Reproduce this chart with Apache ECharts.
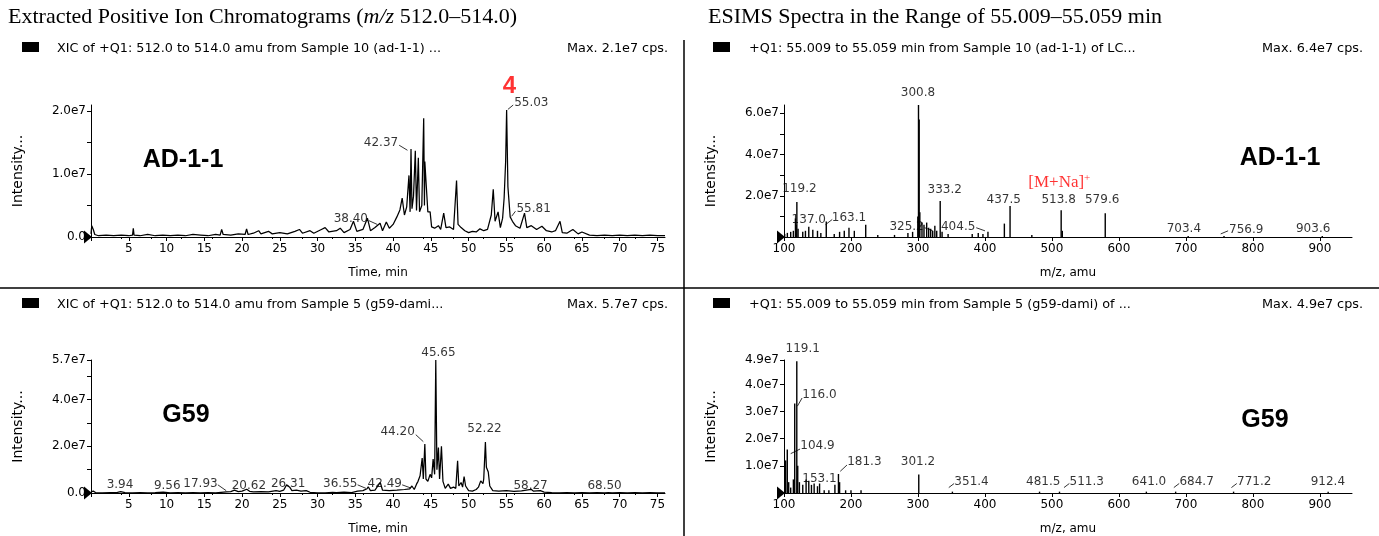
<!DOCTYPE html>
<html>
<head>
<meta charset="utf-8">
<script src="https://cdn.jsdelivr.net/npm/echarts@6/dist/echarts.min.js"></script>
<style>
  html, body { margin: 0; padding: 0; background: #fff; }
  #chart { width: 1379px; height: 536px; }
</style>
</head>
<body>
<div id="chart"></div>
<script>
// XIC of sample AD-1-1: time (min) and intensity (1e6 cps)
var ad11Time = [0, 0.1, 0.2, 0.3, 0.5, 1, 2, 3, 4, 5, 5.5, 5.6, 5.7, 6.5, 7.5, 8.5, 9.5, 10.5, 11.5, 12.5,
  13.5, 14.5, 15.5, 16.5, 17.1, 17.3, 17.5, 18.5, 19.5, 20.4, 20.6, 20.8, 21.5, 22.2, 22.5, 23.5, 24, 25, 26, 27,
  27.6, 28, 29, 29.5, 30.5, 31, 31.5, 32.5, 33, 33.5, 34.3, 34.75, 35.2, 36, 36.6, 37, 37.6, 38.27, 38.6, 39.1,
  39.5, 40, 40.5, 40.9, 41.2, 41.5, 41.8, 42.1, 42.25, 42.37, 42.5, 42.7, 42.94, 43.1, 43.34, 43.5, 43.8, 44.05, 44.15, 44.2,
  44.4, 44.6, 44.9, 45.1, 45.5, 46, 46.3, 46.7, 47, 47.5, 48, 48.4, 48.6, 49, 49.5, 50, 50.5, 51, 51.5, 52,
  52.5, 53, 53.26, 53.5, 53.9, 54.2, 54.5, 54.7, 54.9, 55.03, 55.2, 55.5, 55.8, 56.2, 56.8, 57.4, 57.7, 58.3, 59, 59.7,
  60.3, 61, 61.5, 62.1, 62.4, 63, 63.8, 64.5, 65, 66, 67, 68, 69, 70, 71, 72, 73, 74, 75, 76];
var ad11Int = [0.5, 1.8, 1.5, 1.2, 0.4, 0.2, 0.3, 0.2, 0.3, 0.2, 0.3, 1.4, 0.3, 0.2, 0.4, 0.2, 0.3, 0.2, 0.3, 0.2,
  0.4, 0.3, 0.2, 0.4, 0.3, 1.2, 0.4, 0.3, 0.5, 0.4, 1.3, 0.4, 0.6, 1.0, 0.5, 0.9, 0.5, 0.7, 0.5, 0.9,
  1.2, 0.6, 1.0, 0.6, 1.2, 1.5, 0.8, 1.0, 1.4, 0.7, 1.2, 2.5, 0.9, 1.2, 3.0, 1.0, 1.5, 2.2, 1.0, 2.4,
  1.4, 2.0, 3.2, 4.3, 6.2, 3.5, 4.8, 9.8, 4.0, 14.0, 4.5, 6.5, 13.7, 4.2, 12.6, 4.0, 5.0, 18.9, 5.0, 12.0,
  8.0, 4.0, 4.0, 1.6, 1.4, 1.8, 1.2, 3.8, 1.5, 1.6, 1.2, 9.0, 2.0, 1.5, 1.0, 0.7, 0.9, 0.8, 1.3, 1.0,
  1.2, 3.5, 7.6, 2.5, 4.0, 1.5, 3.0, 6.2, 12.0, 20.2, 8.0, 3.2, 2.5, 1.8, 1.4, 3.8, 1.5, 1.8, 1.2, 1.7,
  1.0, 0.8, 1.0, 2.5, 0.7, 0.6, 1.2, 0.5, 0.8, 0.3, 0.2, 0.3, 0.2, 0.3, 0.2, 0.3, 0.2, 0.3, 0.2, 0.2];

// XIC of sample G59: time (min) and intensity (1e6 cps)
var g59Time = [0, 0.3, 0.6, 1.5, 2.5, 3.5, 3.94, 4.5, 5.5, 6.5, 7.5, 8.5, 9.56, 10.5, 11.5, 12.5, 13.5, 14.5, 15.5, 16.5,
  17.93, 18.5, 19, 19.5, 20, 20.62, 21, 21.5, 22.5, 23.5, 24.5, 25, 25.5, 25.9, 26.31, 26.6, 27.2, 27.8, 28.5, 29,
  30, 31, 32, 32.5, 33.5, 34.5, 35.3, 36, 36.55, 36.7, 37, 37.6, 38.3, 38.6, 39.5, 40.5, 41.5, 42.2, 42.49, 42.8,
  43.1, 43.3, 43.57, 43.85, 44.0, 44.2, 44.35, 44.6, 44.9, 45.1, 45.3, 45.5, 45.65, 45.8, 46.0, 46.15, 46.4, 46.6, 46.9, 47.3,
  47.6, 48.0, 48.3, 48.54, 48.7, 49.0, 49.2, 49.4, 49.6, 50, 50.5, 51, 51.3, 51.6, 51.9, 52.0, 52.22, 52.35, 52.6, 52.8,
  53.2, 54, 55, 56, 57, 58.27, 58.6, 59.5, 60, 61, 62, 63, 64, 65, 66, 67, 68, 68.5, 69, 70,
  71, 72, 73, 74, 75, 76];
var g59Int = [0.5, 0.8, 0.2, 0.1, 0.2, 0.3, 0.6, 0.2, 0.1, 0.2, 0.1, 0.2, 0.4, 0.1, 0.2, 0.1, 0.2, 0.1, 0.2, 0.1,
  0.5, 0.6, 1.2, 0.6, 0.8, 1.6, 0.7, 0.5, 0.6, 0.5, 1.0, 0.7, 1.2, 3.5, 2.5, 1.0, 1.2, 0.8, 1.0, 0.3,
  0.1, 0.1, 0.3, 0.2, 0.4, 0.2, 0.8, 1.0, 1.8, 2.7, 1.0, 1.2, 4.5, 1.2, 1.0, 1.2, 1.5, 1.8, 3.0, 1.5,
  3.8, 5.0, 7.4, 15.0, 6.0, 21.0, 6.0, 5.0, 8.0, 6.5, 14.5, 8.0, 57.0, 10.0, 19.5, 6.0, 20.0, 5.0, 2.0, 3.8,
  2.0, 2.5, 2.0, 13.8, 3.0, 4.5, 2.5, 7.0, 3.0, 1.0, 0.8, 1.5, 2.5, 5.2, 4.0, 6.0, 21.8, 11.0, 9.0, 3.0,
  1.0, 0.8, 1.0, 0.7, 0.9, 1.6, 0.8, 1.0, 0.4, 0.2, 0.1, 0.2, 0.1, 0.2, 0.1, 0.2, 0.1, 0.2, 0.1, 0.2,
  0.1, 0.2, 0.1, 0.2, 0.1, 0.1];

// ESIMS spectrum of AD-1-1: m/z and intensity (1e7 cps)
var ad11Mz = [101, 105, 110, 114, 117.1, 118.2, 119.2, 121, 128, 132, 137, 143, 150, 155, 163.1, 175, 183, 190, 197, 205,
  222, 240, 265, 285, 292, 299.8, 300.8, 301.8, 302.8, 306, 309, 313, 316, 319, 322, 325.2, 328, 333.2, 336, 345,
  381, 390, 397, 404.5, 429, 437.5, 470, 513.8, 515.5, 579.6, 703.4, 756.9, 903.6];
var ad11Abund = [0.15, 0.2, 0.25, 0.3, 0.9, 0.6, 1.7, 0.4, 0.25, 0.3, 0.5, 0.35, 0.3, 0.2, 0.75, 0.15, 0.25, 0.3, 0.45, 0.3,
  0.6, 0.1, 0.1, 0.2, 0.25, 1.0, 6.4, 5.7, 1.2, 0.7, 0.6, 0.7, 0.45, 0.4, 0.3, 0.55, 0.3, 1.75, 0.25, 0.15,
  0.15, 0.2, 0.15, 0.25, 0.65, 1.5, 0.1, 1.3, 0.3, 1.15, 0.05, 0.05, 0.05];

// ESIMS spectrum of G59: m/z and intensity (1e7 cps)
var g59Mz = [102.5, 104.9, 107, 110, 114, 116.0, 119.1, 120.5, 123, 128, 133, 137, 141, 145, 150, 153.1, 160, 167, 176, 181.3,
  183, 192, 200, 215, 301.2, 351.4, 481.5, 511.3, 641.0, 684.7, 771.2, 912.4];
var g59Abund = [1.2, 1.6, 0.4, 0.2, 0.5, 3.3, 4.85, 1.0, 0.4, 0.3, 0.5, 0.45, 0.3, 0.35, 0.25, 0.35, 0.1, 0.1, 0.3, 0.7,
  0.4, 0.1, 0.1, 0.1, 0.68, 0.05, 0.05, 0.05, 0.05, 0.05, 0.05, 0.05];

// peak annotations: text, anchor x, anchor y (same units as the series)
var ad11XicLabels = ['55.03', '42.37', '38.40', '55.81'];
var ad11XicLabelX = [58.3, 38.4, 34.4, 58.6];
var ad11XicLabelY = [21.3, 15.0, 2.9, 4.4];
var g59XicLabels = ['45.65', '44.20', '52.22', '3.94', '9.56', '17.93', '20.62', '26.31', '36.55', '42.49', '58.27', '68.50'];
var g59XicLabelX = [46.0, 40.6, 52.1, 3.84, 10.1, 14.5, 20.9, 26.1, 33.0, 38.9, 58.2, 68.0];
var g59XicLabelY = [60.0, 26.0, 27.3, 3.6, 3.2, 4.0, 3.2, 4.0, 4.0, 4.0, 3.2, 2.9];
var ad11MsLabels = ['300.8', '119.2', '137.0', '163.1', '325.2', '333.2', '404.5', '437.5', '513.8', '579.6', '703.4', '756.9', '903.6'];
var ad11MsLabelX = [300, 123, 137, 197, 283, 340, 360, 428, 510, 575, 697, 790, 890];
var ad11MsLabelY = [7.0, 2.35, 0.85, 0.95, 0.5, 2.3, 0.5, 1.8, 1.8, 1.8, 0.4, 0.35, 0.4];
var g59MsLabels = ['119.1', '116.0', '104.9', '153.1', '181.3', '301.2', '351.4', '481.5', '511.3', '641.0', '684.7', '771.2', '912.4'];
var g59MsLabelX = [128, 153, 150, 153, 220, 300, 380, 487, 552, 645, 716, 802, 912];
var g59MsLabelY = [5.3, 3.6, 1.72, 0.51, 1.13, 1.13, 0.42, 0.42, 0.42, 0.42, 0.42, 0.42, 0.42];

// short leader strokes from a label to its peak: [x1, y1, x2, y2]
var ad11XicLeaders = [[40.8, 14.6, 41.9, 13.8], [36.8, 2.6, 37.9, 2.0], [55.9, 21.0, 55.2, 20.3], [56.2, 4.1, 55.7, 3.3]];
var g59XicLeaders = [[43.0, 25.0, 44.0, 22.0], [41.2, 3.5, 42.3, 2.2], [35.3, 3.5, 36.4, 2.0], [16.8, 3.5, 17.9, 1.0]];
var ad11MsLeaders = [[172, 0.85, 162, 0.6], [310, 0.45, 322, 0.3], [387, 0.45, 400, 0.3], [763, 0.3, 752, 0.15]];
var g59MsLeaders = [[127, 3.5, 120, 3.2], [124, 1.62, 110, 1.45], [194, 1.03, 184, 0.8], [354, 0.35, 346, 0.2],
  [526, 0.35, 518, 0.2], [690, 0.35, 682, 0.2], [776, 0.35, 768, 0.2]];

// axis ticks and labels
var timeTicks = [0, 5, 10, 15, 20, 25, 30, 35, 40, 45, 50, 55, 60, 65, 70, 75];
var mzTicks = [100, 200, 300, 400, 500, 600, 700, 800, 900];
var ad11XicYTicks = [0, 5e6, 1e7, 1.5e7, 2e7];
var ad11XicYLabels = [0, 1e7, 2e7];
var g59XicYTicks = [0, 1e7, 2e7, 3e7, 4e7, 5e7, 5.7e7];
var g59XicYLabels = [0, 2e7, 4e7, 5.7e7];
var ad11MsYTicks = [0, 1e7, 2e7, 3e7, 4e7, 5e7, 6e7];
var ad11MsYLabels = [2e7, 4e7, 6e7];
var g59MsYTicks = [0, 1e7, 2e7, 3e7, 4e7, 4.9e7];
var g59MsYLabels = [1e7, 2e7, 3e7, 4e7, 4.9e7];

var FONT = "'DejaVu Sans', Verdana, sans-serif";
var BOLD = "'Liberation Sans', Arial, sans-serif";
var SERIF = "'Liberation Serif', 'Times New Roman', serif";

var chart = echarts.init(document.getElementById("chart"));

function zip(xs, ys, k) {
  return xs.map(function (x, i) { return [x, ys[i] * k]; });
}

function labelData(txt, xs, ys, k) {
  return txt.map(function (t, i) { return { name: t, value: [xs[i], ys[i] * k] }; });
}

function fmtSci(v) {
  if (v === 0) return "0.0";
  return (v / 1e7).toFixed(1) + "e7";
}

function xAxisCfg(idx, min, max, ticks, minorSplit, name) {
  return {
    type: "value", gridIndex: idx, min: min, max: max,
    name: name, nameLocation: "middle", nameGap: 30,
    nameTextStyle: { color: "#000", fontSize: 12, fontFamily: FONT },
    axisLine: { lineStyle: { color: "#000", width: 1 } },
    axisTick: { show: true, inside: false, length: 4, customValues: ticks, lineStyle: { color: "#000" } },
    minorTick: { show: true, splitNumber: minorSplit, length: 2, lineStyle: { color: "#000" } },
    axisLabel: {
      customValues: ticks.filter(function (v) { return v !== 0; }),
      color: "#000", fontSize: 12, fontFamily: FONT, margin: 6
    },
    splitLine: { show: false }
  };
}

function yAxisCfg(idx, max, ticks, labels) {
  return {
    type: "value", gridIndex: idx, min: 0, max: max,
    name: "Intensity...", nameLocation: "middle", nameRotate: 90, nameGap: 66,
    nameTextStyle: { color: "#000", fontSize: 14, fontFamily: FONT },
    axisLine: { show: true, lineStyle: { color: "#000", width: 1 } },
    axisTick: { show: true, inside: false, length: 4, customValues: ticks, lineStyle: { color: "#000" } },
    axisLabel: { customValues: labels, formatter: fmtSci, color: "#000", fontSize: 12, fontFamily: FONT, margin: 5 },
    splitLine: { show: false }
  };
}

function originArrow(x) {
  return {
    silent: true, symbol: "triangle", symbolSize: [13, 8], symbolRotate: -90, symbolOffset: [-3, 0],
    itemStyle: { color: "#000" }, label: { show: false },
    data: [{ coord: [x, 0] }]
  };
}

function traceSeries(idx, data, x0) {
  return {
    type: "line", xAxisIndex: idx, yAxisIndex: idx, data: data,
    symbol: "none", lineStyle: { color: "#000", width: 1.25 },
    markPoint: originArrow(x0), z: 3
  };
}

function stickSeries(idx, data, x0) {
  return {
    type: "custom", xAxisIndex: idx, yAxisIndex: idx, data: data,
    encode: { x: 0, y: 1 },
    renderItem: function (params, api) {
      var p0 = api.coord([api.value(0), 0]);
      var p1 = api.coord([api.value(0), api.value(1)]);
      return { type: "line", shape: { x1: p0[0], y1: p0[1], x2: p1[0], y2: p1[1] }, style: { stroke: "#000", lineWidth: 1.4 } };
    },
    markPoint: originArrow(x0), z: 3
  };
}

function leaderSeries(idx, segs, k) {
  return {
    type: "custom", xAxisIndex: idx, yAxisIndex: idx, silent: true, clip: false,
    data: segs.map(function (s) { return [s[0], s[1] * k, s[2], s[3] * k]; }),
    encode: { x: [0, 2], y: [1, 3] },
    renderItem: function (params, api) {
      var a = api.coord([api.value(0), api.value(1)]);
      var b = api.coord([api.value(2), api.value(3)]);
      return { type: "line", shape: { x1: a[0], y1: a[1], x2: b[0], y2: b[1] }, style: { stroke: "#000", lineWidth: 0.8 } };
    },
    z: 4
  };
}

function labelSeries(idx, data, style) {
  return {
    type: "scatter", xAxisIndex: idx, yAxisIndex: idx, data: data, symbolSize: 0, clip: false, silent: true,
    label: Object.assign({ show: true, position: "inside", formatter: "{b}", color: "#000", fontSize: 12, fontFamily: FONT }, style || {}),
    z: 5
  };
}

function headText(x, y, txt, align) {
  return { type: "text", x: x, y: y, style: { text: txt, fontSize: 12.8, fontFamily: FONT, fill: "#000", align: align || "left", verticalAlign: "middle" } };
}

function sampleText(x, y, txt) {
  return { type: "text", x: x, y: y, style: { text: txt, fontSize: 25, fontWeight: "bold", fontFamily: BOLD, fill: "#000", align: "center", verticalAlign: "middle" } };
}

var option = {
  animation: false,
  backgroundColor: "#fff",
  grid: [
    { left: 91, top: 105, width: 574, height: 132 },
    { left: 784, top: 105, width: 568, height: 132 },
    { left: 91, top: 360, width: 574, height: 134 },
    { left: 784, top: 360, width: 568, height: 134 }
  ],
  xAxis: [
    xAxisCfg(0, 0, 76, timeTicks, 5, "Time, min"),
    xAxisCfg(1, 100, 948, mzTicks, 2, "m/z, amu"),
    xAxisCfg(2, 0, 76, timeTicks, 5, "Time, min"),
    xAxisCfg(3, 100, 948, mzTicks, 2, "m/z, amu")
  ],
  yAxis: [
    yAxisCfg(0, 2.1e7, ad11XicYTicks, ad11XicYLabels),
    yAxisCfg(1, 6.4e7, ad11MsYTicks, ad11MsYLabels),
    yAxisCfg(2, 5.7e7, g59XicYTicks, g59XicYLabels),
    yAxisCfg(3, 4.9e7, g59MsYTicks, g59MsYLabels)
  ],
  series: [
    traceSeries(0, zip(ad11Time, ad11Int, 1e6), 0),
    stickSeries(1, zip(ad11Mz, ad11Abund, 1e7), 100),
    traceSeries(2, zip(g59Time, g59Int, 1e6), 0),
    stickSeries(3, zip(g59Mz, g59Abund, 1e7), 100),
    leaderSeries(0, ad11XicLeaders, 1e6),
    leaderSeries(1, ad11MsLeaders, 1e7),
    leaderSeries(2, g59XicLeaders, 1e6),
    leaderSeries(3, g59MsLeaders, 1e7),
    labelSeries(0, labelData(ad11XicLabels, ad11XicLabelX, ad11XicLabelY, 1e6)),
    labelSeries(1, labelData(ad11MsLabels, ad11MsLabelX, ad11MsLabelY, 1e7)),
    labelSeries(2, labelData(g59XicLabels, g59XicLabelX, g59XicLabelY, 1e6)),
    labelSeries(3, labelData(g59MsLabels, g59MsLabelX, g59MsLabelY, 1e7)),
    labelSeries(0, [{ name: "4", value: [55.4, 2.4e7] }], { color: "#ff0000", fontSize: 24, fontWeight: "bold", fontFamily: BOLD }),
    labelSeries(1, [{ name: "[M+Na]{s|+}", value: [511, 2.65e7] }], {
      color: "#ff0000", fontSize: 17, fontFamily: SERIF,
      rich: { s: { color: "#ff0000", fontSize: 11, fontFamily: SERIF, verticalAlign: "top", padding: [0, 0, 8, 0] } }
    })
  ],
  graphic: [
    // panel titles
    { type: "text", left: 8, top: 6, style: {
      text: "{n|Extracted Positive Ion Chromatograms (}{i|m/z}{n| 512.0–514.0)}",
      rich: { n: { fontSize: 22, fontFamily: SERIF, fill: "#000" }, i: { fontSize: 22, fontFamily: SERIF, fontStyle: "italic", fill: "#000" } }
    } },
    { type: "text", left: 708, top: 6, style: { text: "ESIMS Spectra in the Range of 55.009–55.059 min", fontSize: 22, fontFamily: SERIF, fill: "#000" } },
    // dividers
    { type: "line", shape: { x1: 684, y1: 40, x2: 684, y2: 536 }, style: { stroke: "#000", lineWidth: 1.5 } },
    { type: "line", shape: { x1: 0, y1: 288, x2: 1379, y2: 288 }, style: { stroke: "#000", lineWidth: 1.5 } },
    // trace headers
    { type: "rect", shape: { x: 22, y: 42, width: 17, height: 10 }, style: { fill: "#000" } },
    { type: "rect", shape: { x: 713, y: 42, width: 17, height: 10 }, style: { fill: "#000" } },
    { type: "rect", shape: { x: 22, y: 298, width: 17, height: 10 }, style: { fill: "#000" } },
    { type: "rect", shape: { x: 713, y: 298, width: 17, height: 10 }, style: { fill: "#000" } },
    headText(57, 49, "XIC of +Q1: 512.0 to 514.0 amu from Sample 10 (ad-1-1) ..."),
    headText(668, 49, "Max. 2.1e7 cps.", "right"),
    headText(749, 49, "+Q1: 55.009 to 55.059 min from Sample 10 (ad-1-1) of LC..."),
    headText(1363, 49, "Max. 6.4e7 cps.", "right"),
    headText(57, 305, "XIC of +Q1: 512.0 to 514.0 amu from Sample 5 (g59-dami..."),
    headText(668, 305, "Max. 5.7e7 cps.", "right"),
    headText(749, 305, "+Q1: 55.009 to 55.059 min from Sample 5 (g59-dami) of ..."),
    headText(1363, 305, "Max. 4.9e7 cps.", "right"),
    // sample names
    sampleText(183, 160, "AD-1-1"),
    sampleText(1280, 158, "AD-1-1"),
    sampleText(186, 415, "G59"),
    sampleText(1265, 420, "G59")
  ]
};

chart.setOption(option);
</script>
</body>
</html>
